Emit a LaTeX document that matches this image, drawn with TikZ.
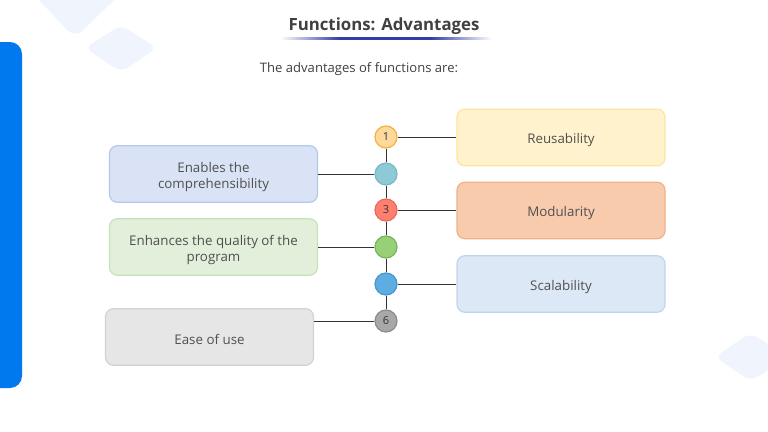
\documentclass[tikz,border=0pt]{standalone}
\usepackage{fontspec}
\setmainfont{Open Sans}
\usetikzlibrary{shadings}
\definecolor{barblue}{RGB}{0,120,238}
\definecolor{faint}{RGB}{240,245,253}
\definecolor{txt}{RGB}{80,80,80}
\definecolor{titletxt}{RGB}{64,64,64}
\definecolor{lineblue}{RGB}{50,60,170}
\definecolor{f1}{RGB}{255,242,204}\definecolor{s1}{RGB}{253,228,160}
\definecolor{f3}{RGB}{248,203,173}\definecolor{s3}{RGB}{242,177,134}
\definecolor{f5}{RGB}{220,232,246}\definecolor{s5}{RGB}{190,213,240}
\definecolor{f2}{RGB}{217,227,245}\definecolor{s2}{RGB}{180,199,236}
\definecolor{f4}{RGB}{226,239,218}\definecolor{s4}{RGB}{200,226,184}
\definecolor{f6}{RGB}{230,230,230}\definecolor{s6}{RGB}{210,210,210}
\definecolor{c1}{RGB}{253,217,155}\definecolor{e1}{RGB}{245,176,65}
\definecolor{c2}{RGB}{142,202,214}\definecolor{e2}{RGB}{122,184,197}
\definecolor{c3}{RGB}{255,128,112}\definecolor{e3}{RGB}{232,106,90}
\definecolor{c4}{RGB}{151,208,119}\definecolor{e4}{RGB}{120,180,90}
\definecolor{c5}{RGB}{93,173,226}\definecolor{e5}{RGB}{70,150,210}
\definecolor{c6}{RGB}{168,168,168}\definecolor{e6}{RGB}{140,140,140}
\newcommand\tup{\rule{0pt}{12pt}}
\begin{document}
\begin{tikzpicture}[x=0.75pt,y=-0.75pt,
  box/.style={draw, line width=0.9pt, rounded corners=6pt, minimum width=156pt, minimum height=42.5pt, text=txt, font=\fontsize{10pt}{12.2pt}\selectfont, align=center, inner sep=0pt},
  dot/.style={circle, draw, line width=0.9pt, minimum size=16.5pt, inner sep=0pt, text=black!80, font=\fontsize{8.3pt}{9pt}\selectfont},
  conn/.style={draw=black!80, line width=0.75pt}]
\useasboundingbox (0,0) rectangle (768,432);
\fill[white] (0,0) rectangle (768,432);
% faint decorations
\fill[faint, rounded corners=8pt] (10,-30) -- (75,38) -- (145,-30) -- cycle;
\fill[faint, rounded corners=6pt] (85,48) -- (121,25) -- (157,48) -- (121,72) -- cycle;
\fill[faint, rounded corners=6pt] (715,357) -- (750,333) -- (790,357) -- (750,381) -- cycle;
% left bar
\fill[barblue, rounded corners=9pt] (-12,42) rectangle (22,388);
% title
\node[font=\bfseries\fontsize{12.6pt}{14pt}\selectfont, text=titletxt] (title) at (384,26.5) {Functions: Advantages};
\shade[left color=white, right color=lineblue, draw=none] (280,37) rectangle (340,39.5);
\fill[lineblue] (340,37) rectangle (430,39.5);
\shade[left color=lineblue, right color=white, draw=none] (430,37) rectangle (492,39.5);
\node[font=\fontsize{9.8pt}{11pt}\selectfont, text=titletxt] (sub) at (359,69) {The advantages of functions are:};
% boxes
\node[box, fill=f1, draw=s1] (b1) at (561,137.5) {\tup Reusability};
\node[box, fill=f3, draw=s3] (b3) at (561,210.5) {\tup Modularity};
\node[box, fill=f5, draw=s5] (b5) at (561,284) {\tup Scalability};
\node[box, fill=f2, draw=s2] (b2) at (213.5,174) {\tup Enables the\\comprehensibility};
\node[box, fill=f4, draw=s4] (b4) at (213.5,247) {\tup Enhances the quality of the\\program};
\node[box, fill=f6, draw=s6] (b6) at (209.5,337) {\tup Ease of use};
% dots
\node[dot, fill=c1, draw=e1] (d1) at (386,137) {1};
\node[dot, fill=c2, draw=e2] (d2) at (386,174) {};
\node[dot, fill=c3, draw=e3] (d3) at (386,210) {3};
\node[dot, fill=c4, draw=e4] (d4) at (386,247) {};
\node[dot, fill=c5, draw=e5] (d5) at (386,284) {};
\node[dot, fill=c6, draw=e6] (d6) at (386,321) {6};
% spine segments
\draw[conn] (d1) -- (d2);
\draw[conn] (d2) -- (d3);
\draw[conn] (d3) -- (d4);
\draw[conn] (d4) -- (d5);
\draw[conn] (d5) -- (d6);
% connectors
\draw[conn] (d1.east) -- (d1.east -| b1.west);
\draw[conn] (d3.east) -- (d3.east -| b3.west);
\draw[conn] (d5.east) -- (d5.east -| b5.west);
\draw[conn] (d2.west) -- (d2.west -| b2.east);
\draw[conn] (d4.west) -- (d4.west -| b4.east);
\draw[conn] (d6.west) -- (d6.west -| b6.east);
\end{tikzpicture}
\end{document}
